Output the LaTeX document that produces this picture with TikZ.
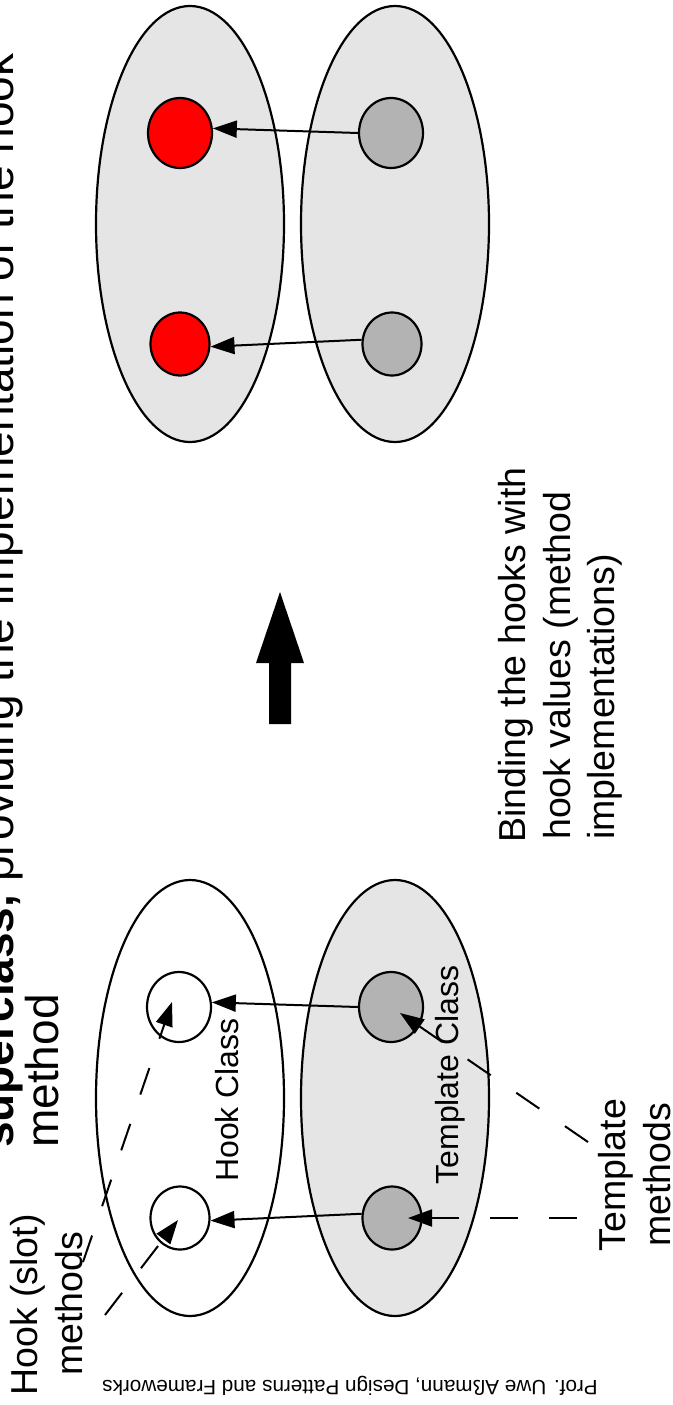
\documentclass[tikz,border=0pt]{standalone}
\usepackage{fontspec}
\setmainfont{Liberation Sans}
\usetikzlibrary{shapes.geometric,arrows.meta,calc}
\definecolor{lightfill}{HTML}{E5E5E5}
\definecolor{midgrey}{HTML}{B3B3B3}
\definecolor{hookred}{HTML}{FF0000}
\begin{document}
\begin{tikzpicture}[x=1pt,y=-1pt,
  bigell/.style={ellipse, draw=black, line width=2.2pt, minimum width=188pt, minimum height=436pt, inner sep=0pt},
  smallnode/.style={ellipse, draw=black, line width=2.2pt, inner sep=0pt},
  topnode/.style={smallnode, minimum width=64pt, minimum height=70pt},
  botnode/.style={smallnode, minimum width=59pt, minimum height=63pt},
  bindarrow/.style={-{Triangle[length=24pt,width=17pt]}, line width=2pt},
  dashbind/.style={bindarrow, dash pattern=on 28pt off 31pt},
  lbl/.style={font=\fontsize{37.5pt}{45pt}\selectfont, inner sep=0pt, rotate=90},
  clslbl/.style={font=\fontsize{32pt}{38pt}\selectfont, inner sep=0pt, rotate=90},
  ttl/.style={font=\fontsize{46pt}{50pt}\selectfont, inner sep=0pt, rotate=90},
  foot/.style={font=\fontsize{20.7pt}{24pt}\selectfont, inner sep=0pt, rotate=180},
]
\useasboundingbox (0,0) rectangle (672,1405);
\fill[white] (0,0) rectangle (672,1405);

% ---------- upper group (bound hooks) ----------
\node[bigell, fill=lightfill] (ellA) at (190,224) {};
\node[bigell, fill=lightfill] (ellB) at (395,224) {};
\node[topnode, fill=hookred] (r1) at (180,133) {};
\node[botnode, fill=hookred] (r2) at (180,344) {};
\node[topnode, fill=midgrey] (g1) at (391,133) {};
\node[botnode, fill=midgrey] (g2) at (392,344) {};
\draw[bindarrow] (g1.west) -- (r1.8);
\draw[bindarrow] (g2.172) -- (r2.-5);

% ---------- block arrow ----------
\fill[black] (269,724) -- (269,663) -- (256,663) -- (280,592) -- (304,663) -- (291,663) -- (291,724) -- cycle;

% ---------- lower group (template / hook classes) ----------
\node[bigell, fill=white] (ellC) at (190,1098) {};
\node[bigell, fill=lightfill] (ellD) at (395,1098) {};
\node[topnode, fill=white] (w1) at (179,1007) {};
\node[botnode, fill=white] (w2) at (180,1218) {};
\node[topnode, fill=midgrey] (t1) at (391,1007) {};
\node[botnode, fill=midgrey] (t2) at (392,1218) {};
\draw[bindarrow] (t1.west) -- (w1.8);
\draw[bindarrow] (t2.172) -- (w2.-5);

% labels inside lower group
\node[clslbl, anchor=base] (hookcls) at (238,1100) {Hook Class};
\node[clslbl, anchor=base] (tmplcls) at (458,1075) {Template Class};

% dashed pointers
\coordinate (hm1) at (83,1262);
\coordinate (hm2) at (105,1315);
\coordinate (tm1) at (588,1142);
\coordinate (tm2) at (577,1218);
\draw[dashbind] (hm1) -- ($(w1.center)+(-7,-5)$);
\draw[dashbind] (hm2) -- ($(w2.center)+(-2,2)$);
\draw[dashbind] (tm1) -- ($(t1.center)+(9,6)$);
\draw[dashbind] (tm2) -- ($(t2.center)+(16,0)$);

% ---------- texts ----------
\node[ttl, anchor=base west] (title1) at (13,1148) {\textbf{superclass,} providing the implementation of the hook};
\node[ttl, anchor=base west] (title2) at (58,1148) {method};

\node[lbl, anchor=base] (hook1) at (37,1305) {Hook (slot)};
\node[lbl, anchor=base] (hook2) at (82,1304) {methods};

\node[lbl, anchor=base] (tmpl1) at (625,1175) {Template};
\node[lbl, anchor=base] (tmpl2) at (670,1175) {methods};

\node[lbl, anchor=base west] (bind1) at (525,843) {Binding the hooks with};
\node[lbl, anchor=base west] (bind2) at (570,840) {hook values (method};
\node[lbl, anchor=base west] (bind3) at (614,840) {implementations)};

\node[foot, anchor=base] (footer) at (350,1380) {Prof. Uwe Aßmann, Design Patterns and Frameworks};
\end{tikzpicture}
\end{document}
